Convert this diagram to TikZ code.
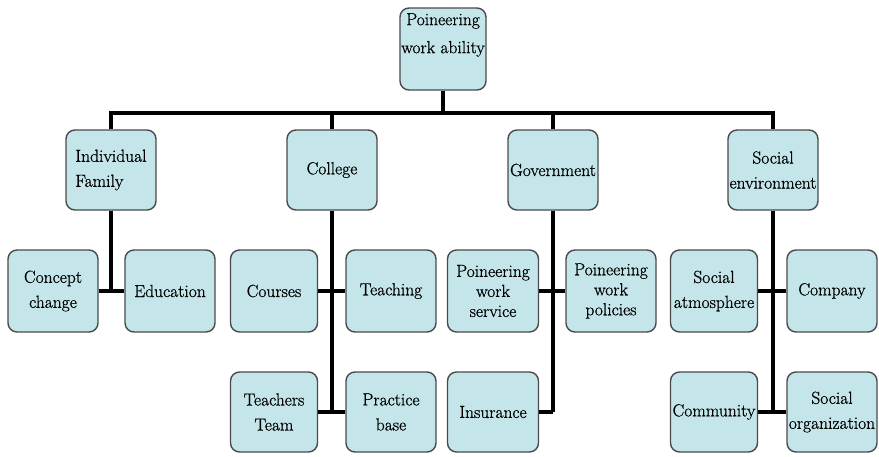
\documentclass[tikz,border=0pt]{standalone}
\usepackage{fontspec}
\newfontfamily\boxfont{Latin Modern Roman}[UprightFeatures={FakeBold=0.8}]
\definecolor{boxfill}{HTML}{C4E6EA}
\definecolor{boxline}{HTML}{4A4A4A}
\begin{document}
\begin{tikzpicture}[x=1pt,y=-1pt,
  box/.style={draw=boxline, line width=1.4pt, fill=boxfill, rounded corners=9pt,
    minimum width=90pt, minimum height=80pt, inner sep=0pt, align=center,
    font=\boxfont\fontsize{17.5}{25}\selectfont},
  tight/.style={font=\boxfont\fontsize{17.5}{20}\selectfont},
  conn/.style={draw=black, line width=3.6pt}]
\useasboundingbox (0,0) rectangle (879,456);
% level 1
\node[box, minimum width=86pt, minimum height=82pt] (top) at (443,49) {};
\node[anchor=north, inner sep=0pt, align=left, font=\boxfont\fontsize{17.5}{28}\selectfont] (toptext) at (443,13) {\hspace*{5pt}Poineering\\work ability};
% level 2
\node[box, align=left] (ind) at (111,170) {Individual\\Family};
\node[box] (col) at (332,170) {College};
\node[box] (gov) at (553,170) {Government};
\node[box] (soc) at (773,170) {Social\\environment};
% level 3
\node[box, minimum height=82pt] (concept) at (53,291) {Concept\\change};
\node[box, minimum height=82pt] (edu) at (170,291) {Education};
\node[box, minimum width=87pt, minimum height=82pt] (courses) at (274,291) {Courses};
\node[box, minimum height=82pt] (teach) at (391,291) {Teaching};
\node[box, tight, minimum width=91pt, minimum height=82pt] (service) at (493,291) {Poineering\\work\\service};
\node[box, tight, minimum height=82pt] (policy) at (611,291) {Poineering\\work\\policies};
\node[box, minimum width=87pt, minimum height=82pt] (atmos) at (714,291) {Social\\atmosphere};
\node[box, minimum height=82pt] (company) at (832,291) {Company};
% level 4
\node[box, minimum width=87pt] (teachers) at (274,412) {Teachers\\Team};
\node[box] (practice) at (391,412) {Practice\\base};
\node[box, minimum width=91pt] (insur) at (493,412) {Insurance};
\node[box, minimum width=87pt] (commu) at (714,412) {Community};
\node[box] (socorg) at (832,412) {Social\\organization};
% connectors
\coordinate (bar) at (443,113);
\coordinate (indend) at (111,290);
\coordinate (colend) at (332,412);
\coordinate (govend) at (553,412);
\coordinate (socend) at (773,412);
\draw[conn] (top.south) -- (bar);
\draw[conn] (ind.north) |- (bar);
\draw[conn] (col.north) |- (bar);
\draw[conn] (gov.north) |- (bar);
\draw[conn] (soc.north) |- (bar);
\draw[conn] (ind.south) -- (indend);
\draw[conn] (concept.east) -- (edu.west);
\draw[conn] (col.south) -- (colend);
\draw[conn] (courses.east) -- (teach.west);
\draw[conn] (teachers.east) -- (practice.west);
\draw[conn] (gov.south) -- (govend);
\draw[conn] (service.east) -- (policy.west);
\draw[conn] (insur.east) -- (govend);
\draw[conn] (soc.south) -- (socend);
\draw[conn] (atmos.east) -- (company.west);
\draw[conn] (commu.east) -- (socorg.west);
\end{tikzpicture}
\end{document}
